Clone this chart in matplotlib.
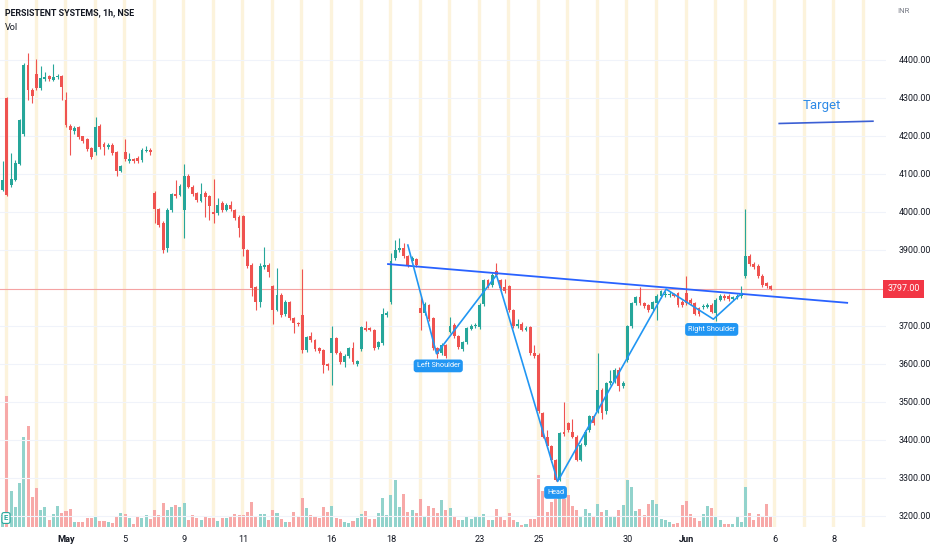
import numpy as np
import matplotlib
matplotlib.use("Agg")
import matplotlib.pyplot as plt
import matplotlib.transforms as mtransforms

# PERSISTENT SYSTEMS, 1h candles (NSE), 28 Apr - 3 Jun
opens = [4057, 4298, 4070, 4084, 4126, 4205, 4386, 4320, 4362, 4325,
         4349, 4356, 4347, 4354, 4356, 4294, 4226, 4211, 4222, 4198,
         4191, 4167, 4156, 4226, 4178, 4170, 4176, 4156, 4108, 4158,
         4134, 4138, 4141, 4136, 4160, 4163, 4050, 4006, 3970, 3905,
         4005, 4047, 4044, 4005, 4094, 4066, 4049, 4029, 4050, 4040,
         3998, 3996, 4022, 4005, 4018, 4005, 3985, 3989, 3899, 3860,
         3801, 3763, 3854, 3860, 3805, 3742, 3781, 3731, 3763, 3720,
         3708, 3728, 3636, 3673, 3661, 3641, 3635, 3599, 3628, 3667,
         3628, 3603, 3619, 3641, 3599, 3638, 3693, 3693, 3689, 3643,
         3654, 3728, 3763, 3877, 3898, 3904, 3882, 3869, 3875, 3746,
         3733, 3755, 3720, 3641, 3629, 3649, 3684, 3702, 3673, 3638,
         3656, 3692, 3698, 3696, 3757, 3819, 3807, 3845, 3820, 3801,
         3803, 3741, 3698, 3705, 3689, 3696, 3627, 3623, 3469, 3408,
         3382, 3347, 3294, 3421, 3443, 3421, 3408, 3347, 3386, 3425,
         3461, 3474, 3531, 3475, 3548, 3555, 3584, 3540, 3610, 3698,
         3759, 3775, 3759, 3755, 3743, 3759, 3778, 3780, 3780, 3783,
         3785, 3763, 3785, 3768, 3759, 3746, 3748, 3750, 3755, 3733,
         3768, 3778, 3778, 3771, 3775, 3778, 3831, 3884, 3863, 3857,
         3831, 3811, 3804]
highs = [4132, 4302, 4154, 4135, 4245, 4390, 4417, 4325, 4402, 4382,
         4367, 4360, 4389, 4362, 4360, 4316, 4230, 4225, 4226, 4200,
         4195, 4170, 4248, 4230, 4182, 4180, 4180, 4160, 4124, 4191,
         4154, 4142, 4146, 4168, 4173, 4168, 4054, 4010, 3975, 4010,
         4050, 4084, 4072, 4126, 4098, 4070, 4052, 4075, 4053, 4043,
         4085, 4035, 4029, 4022, 4029, 4008, 3990, 3992, 3902, 3864,
         3804, 3864, 3906, 3864, 3808, 3851, 3786, 3768, 3766, 3722,
         3710, 3849, 3674, 3682, 3664, 3644, 3638, 3602, 3698, 3670,
         3632, 3624, 3645, 3658, 3610, 3700, 3711, 3697, 3692, 3660,
         3746, 3738, 3892, 3925, 3930, 3917, 3886, 3882, 3878, 3778,
         3762, 3758, 3724, 3644, 3654, 3652, 3722, 3706, 3676, 3660,
         3697, 3705, 3706, 3759, 3823, 3823, 3838, 3864, 3824, 3822,
         3806, 3745, 3717, 3709, 3698, 3699, 3649, 3627, 3473, 3426,
         3386, 3350, 3421, 3500, 3447, 3454, 3411, 3390, 3425, 3465,
         3466, 3627, 3535, 3552, 3583, 3588, 3592, 3555, 3702, 3763,
         3779, 3801, 3763, 3758, 3765, 3782, 3794, 3790, 3790, 3787,
         3789, 3767, 3831, 3772, 3763, 3750, 3756, 3759, 3759, 3772,
         3782, 3782, 3782, 3779, 3782, 3803, 4008, 3888, 3867, 3861,
         3835, 3815, 3808]
lows = [4053, 4041, 4065, 4080, 4122, 4200, 4294, 4285, 4320, 4320,
        4345, 4345, 4343, 4350, 4294, 4222, 4149, 4205, 4192, 4180,
        4160, 4138, 4150, 4165, 4149, 4166, 4150, 4094, 4104, 4134,
        4127, 4128, 4128, 4130, 4156, 4149, 3970, 3960, 3890, 3895,
        4000, 4036, 4040, 3930, 4062, 4042, 4025, 4025, 3987, 3978,
        3970, 3992, 4000, 4001, 4002, 3978, 3933, 3882, 3852, 3777,
        3742, 3750, 3850, 3827, 3705, 3738, 3722, 3726, 3715, 3680,
        3700, 3628, 3630, 3657, 3634, 3628, 3575, 3584, 3544, 3624,
        3598, 3592, 3615, 3598, 3594, 3634, 3685, 3685, 3636, 3638,
        3650, 3724, 3758, 3872, 3893, 3878, 3855, 3865, 3855, 3689,
        3728, 3712, 3636, 3614, 3622, 3614, 3680, 3668, 3638, 3634,
        3652, 3688, 3694, 3692, 3752, 3800, 3802, 3830, 3794, 3786,
        3736, 3693, 3694, 3685, 3685, 3622, 3614, 3470, 3404, 3378,
        3342, 3290, 3290, 3410, 3420, 3403, 3343, 3343, 3382, 3420,
        3438, 3470, 3455, 3468, 3544, 3550, 3527, 3535, 3605, 3694,
        3755, 3755, 3747, 3737, 3738, 3715, 3774, 3776, 3776, 3775,
        3750, 3750, 3754, 3755, 3727, 3726, 3744, 3746, 3733, 3711,
        3764, 3768, 3766, 3767, 3771, 3774, 3826, 3858, 3850, 3826,
        3802, 3799, 3794]
closes = [4084, 4044, 4085, 4129, 4241, 4386, 4320, 4305, 4325, 4351,
          4354, 4349, 4354, 4356, 4327, 4228, 4215, 4220, 4196, 4187,
          4164, 4145, 4222, 4170, 4170, 4176, 4154, 4108, 4119, 4138,
          4138, 4132, 4132, 4163, 4163, 4157, 4006, 3965, 3900, 4005,
          4047, 4040, 4068, 4094, 4066, 4047, 4031, 4047, 4038, 4015,
          3994, 4018, 4005, 4018, 4006, 3983, 3956, 3901, 3857, 3798,
          3763, 3857, 3860, 3842, 3740, 3781, 3728, 3763, 3720, 3708,
          3705, 3636, 3670, 3661, 3638, 3632, 3597, 3594, 3667, 3628,
          3603, 3619, 3641, 3603, 3606, 3696, 3689, 3689, 3641, 3656,
          3731, 3733, 3869, 3898, 3904, 3882, 3860, 3877, 3860, 3733,
          3757, 3717, 3641, 3626, 3649, 3619, 3698, 3673, 3643, 3656,
          3693, 3698, 3702, 3755, 3819, 3805, 3834, 3834, 3798, 3790,
          3741, 3698, 3705, 3689, 3694, 3627, 3619, 3474, 3408, 3382,
          3347, 3294, 3417, 3415, 3425, 3408, 3347, 3386, 3421, 3461,
          3443, 3531, 3470, 3548, 3555, 3584, 3540, 3550, 3698, 3759,
          3775, 3759, 3752, 3741, 3761, 3778, 3790, 3784, 3784, 3779,
          3755, 3755, 3759, 3759, 3731, 3731, 3752, 3755, 3737, 3768,
          3778, 3772, 3770, 3775, 3778, 3785, 3884, 3863, 3854, 3831,
          3807, 3803, 3797]
volumes = [12, 131, 36, 20, 44, 90, 101, 30, 39, 17,
           20, 7, 13, 21, 14, 16, 18, 5, 5, 5,
           9, 9, 11, 6, 6, 5, 4, 10, 14, 13,
           9, 3, 10, 9, 12, 8, 17, 12, 24, 17,
           20, 22, 20, 24, 7, 12, 9, 7, 10, 9,
           9, 6, 9, 9, 10, 13, 12, 12, 15, 25,
           11, 13, 13, 7, 17, 14, 8, 5, 5, 15,
           11, 29, 19, 12, 10, 9, 20, 15, 21, 9,
           8, 5, 4, 6, 9, 13, 16, 8, 8, 14,
           29, 12, 32, 47, 20, 33, 15, 17, 14, 28,
           11, 21, 19, 14, 27, 17, 19, 11, 7, 7,
           11, 8, 11, 11, 13, 7, 7, 18, 10, 7,
           14, 7, 5, 2, 3, 8, 8, 52, 36, 15,
           25, 28, 30, 28, 32, 21, 17, 11, 18, 14,
           11, 23, 15, 17, 10, 11, 17, 22, 47, 40,
           16, 18, 12, 23, 27, 23, 8, 7, 5, 3,
           4, 22, 26, 13, 9, 6, 13, 21, 19, 11,
           7, 3, 3, 3, 11, 5, 40, 14, 7, 13,
           11, 23, 11]

# x axis: first candle of each trading day (7 hourly candles per session)
day_starts = [1, 8, 15, 22, 29, 36, 43, 50, 57, 64, 71, 78, 85, 92, 99,
              106, 113, 120, 127, 134, 141, 148, 155, 162, 169, 176, 183,
              190, 197, 204]
tick_pos = [15, 29, 43, 57, 78, 92, 113, 127, 148, 162, 183, 197]
tick_labels = ["May", "5", "9", "11", "16", "18", "23", "25", "30", "Jun", "6", "8"]
price_ticks = [3200, 3300, 3400, 3500, 3600, 3700, 3900, 4000, 4100, 4200, 4300, 4400]
last_price = 3797.00

# drawings on the chart
neck_x = [91.3, 200.1]
neck_y = [3862, 3760]
hs_x = [96.0, 102.8, 117.0, 131.5, 157.2, 168.4, 175.1]
hs_y = [3912, 3626, 3833, 3290, 3796, 3717, 3785]
target_x = [184.0, 206.2]
target_y = [4232, 4238]
labels = [("Left Shoulder", 103.2, 3594), ("Head", 131.0, 3261), ("Right Shoulder", 168.0, 3690)]

up_col = "#26a69a"
down_col = "#ef5350"
ui_font = ["Roboto", "DejaVu Sans"]

o = np.array(opens, float)
h = np.array(highs, float)
l = np.array(lows, float)
c = np.array(closes, float)
x = np.arange(len(o))
up = c >= o
cols = np.where(up, up_col, down_col)

fig = plt.figure(figsize=(9.32, 5.5), dpi=100)
ax = fig.add_axes([0, 23 / 550, 886 / 932, 527 / 550])
axv = ax.twinx()
ax.set_zorder(axv.get_zorder() + 1)
ax.patch.set_visible(False)

# background: session breaks + volume
for d in day_starts:
    axv.axvline(d - 0.2, color="#fcf3dc", lw=2.4, zorder=0)
vcols = np.where(up, "#92d3cc", "#f7a9a8")
axv.bar(x, volumes, width=0.72, color=vcols, zorder=1)
axv.set_ylim(0, 527)
axv.set_yticks([])

# candles
ax.vlines(x, l, h, colors=cols, lw=0.8, zorder=3)
body_low = np.minimum(o, c)
body_h = np.maximum(np.abs(c - o), 2.0)
ax.bar(x, body_h, bottom=body_low, width=0.68, color=cols, zorder=4)

ax.set_xlim(-0.64, 209.3)
ax.set_ylim(3170, 4557)

ax.set_yticks(price_ticks)
ax.grid(axis="y", color="#f0f3fa", lw=0.8, zorder=0)
ax.yaxis.tick_right()
ax.set_yticklabels(["%.2f" % p for p in price_ticks], family=ui_font)
ax.tick_params(axis="y", length=0, pad=9, labelsize=6.4, labelcolor="#131722")
ax.set_xticks(tick_pos)
ax.set_xticklabels(tick_labels, family=ui_font)
ax.tick_params(axis="x", length=0, pad=6, labelsize=6.6, labelcolor="#131722")
for t in ax.get_xticklabels():
    if t.get_text() in ("May", "Jun"):
        t.set_fontweight("bold")
for a in (ax, axv):
    for s in a.spines.values():
        s.set_visible(False)
axv.tick_params(length=0)

# last price line and label
ax.axhline(last_price, color="#f5a3a3", lw=0.8, zorder=2)
tr = mtransforms.blended_transform_factory(ax.transAxes, ax.transData)
ax.text(1.0 + 1.5 / 886, last_price, "%.2f" % last_price, transform=tr, va="center", ha="left",
        fontsize=6.4, family=ui_font, color="white", zorder=10, clip_on=False,
        bbox=dict(boxstyle="square,pad=0.5", fc="#f23645", ec="none"))

# neckline, pattern, target
ax.plot(neck_x, neck_y, color="#2962ff", lw=1.3, zorder=6)
ax.plot(hs_x, hs_y, color="#2196f3", lw=1.2, zorder=6)
ax.plot(target_x, target_y, color="#3b5fd4", lw=1.2, zorder=6)
ax.text(194.2, 4280, "Target", color="#2e8ae6", fontsize=9.5, family=ui_font,
        ha="center", va="center", zorder=7)
for txt, lx, ly in labels:
    ax.text(lx, ly, txt, color="white", fontsize=5.2, family=ui_font, ha="center", va="center",
            zorder=8, bbox=dict(boxstyle="round,pad=0.4,rounding_size=0.4", fc="#2196f3", ec="none"))

# header
fig.text(5 / 932, 1 - 13 / 550, "PERSISTENT SYSTEMS, 1h, NSE", fontsize=6.4, fontweight="bold",
         family=ui_font, color="#131722", va="center", ha="left")
fig.text(5 / 932, 1 - 27 / 550, "Vol", fontsize=6.6, family=ui_font, color="#131722",
         va="center", ha="left")
fig.text(897 / 932, 1 - 11 / 550, "INR", fontsize=5.6, family=ui_font, color="#787b86",
         va="center", ha="left")

# earnings marker
fig.text(6 / 932, 1 - 518 / 550, "E", fontsize=5.5, color=up_col, fontweight="bold", va="center",
         ha="center", family=ui_font,
         bbox=dict(boxstyle="round,pad=0.25", fc="white", ec=up_col, lw=0.8))

fig.savefig("out.png", dpi=100, facecolor="white")
